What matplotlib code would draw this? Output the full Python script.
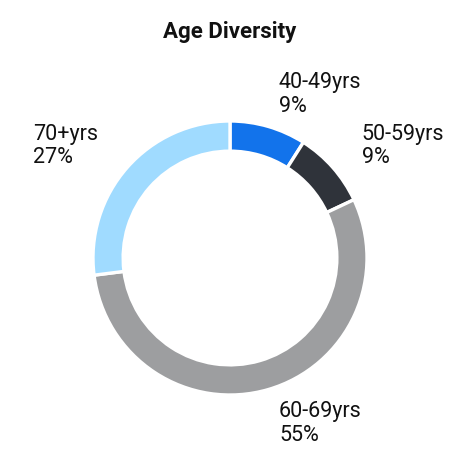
import numpy as np
import matplotlib
matplotlib.use("Agg")
import matplotlib.pyplot as plt

# Dati
categorie = ["40-49yrs", "50-59yrs", "60-69yrs", "70+yrs"]
percentuali = [9, 9, 55, 27]
colori = ["#1273eb", "#2f333a", "#9d9ea0", "#a0dbff"]

plt.rcParams["font.family"] = ["Roboto", "DejaVu Sans"]

fig = plt.figure(figsize=(4.6, 4.6), dpi=100)
ax = fig.add_axes([0, 0, 1, 1])

wedges, _ = ax.pie(percentuali, colors=colori, startangle=90, counterclock=False,
                   radius=1, wedgeprops=dict(width=0.22, edgecolor="white", linewidth=2.4))

# Limiti impostati dopo pie (che li sovrascrive)
R = 137.0  # raggio esterno in pixel
ax.set_xlim(-230 / R, 230 / R)
ax.set_ylim(-201 / R, 259 / R)
ax.set_aspect("equal")
ax.axis("off")

# Etichette fuori dall'anello
for w, nome, p in zip(wedges, categorie, percentuali):
    ang = np.deg2rad((w.theta1 + w.theta2) / 2)
    x, y = 1.28 * np.cos(ang), 1.25 * np.sin(ang)
    ha = "left" if np.cos(ang) > 0 else "right"
    ax.text(x, y, f"{nome}\n{p}%", ha=ha, va="center", multialignment="left",
            fontsize=15.5, color="#111111", linespacing=1.15)

fig.text(0.5, 1 - 32 / 460, "Age Diversity", ha="center", va="center",
         fontsize=16, fontweight="bold", color="#111111")

fig.savefig("out.png", dpi=100, facecolor="white")
